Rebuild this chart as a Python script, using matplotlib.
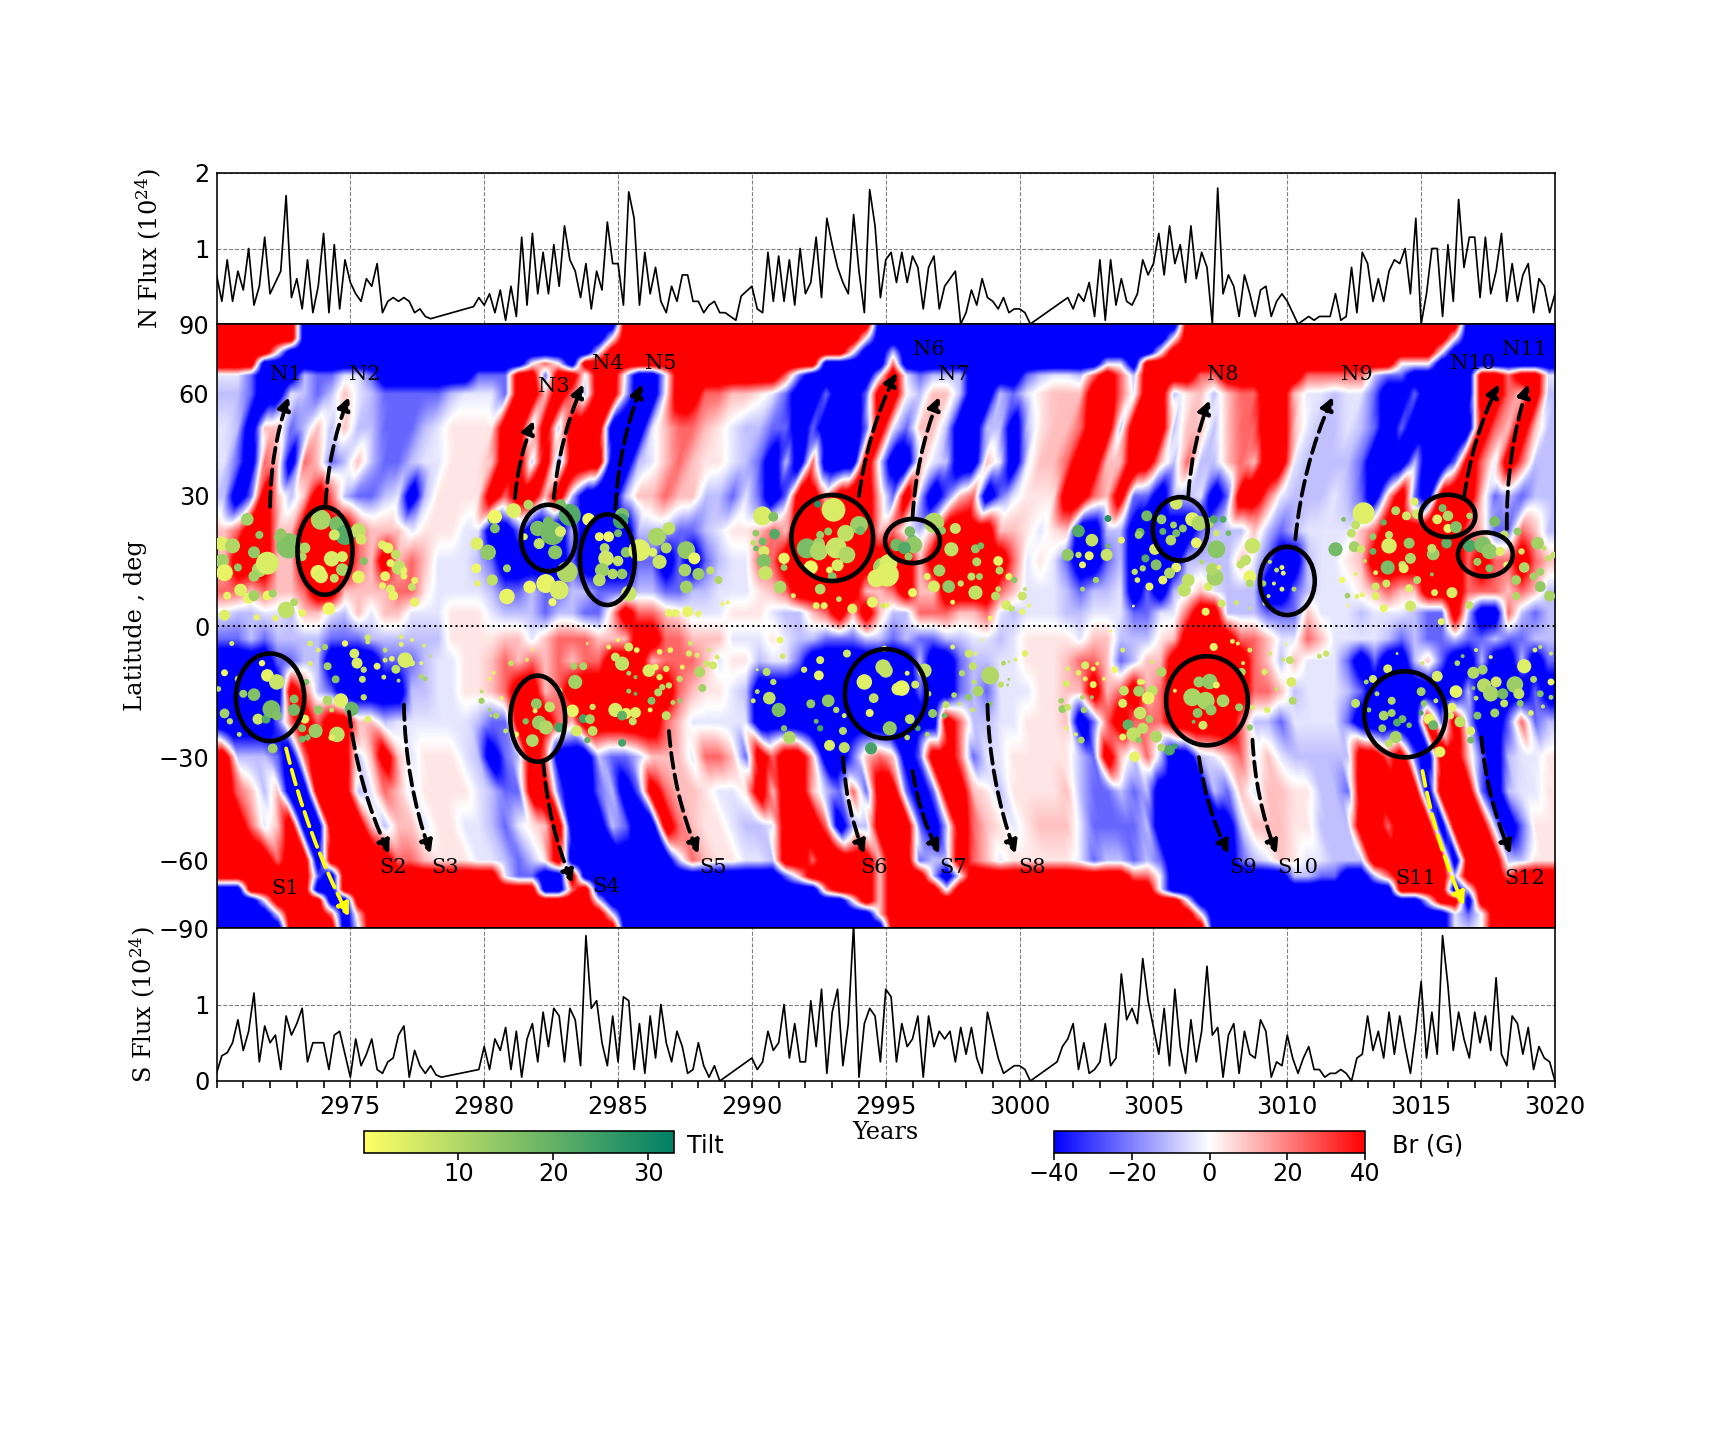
import numpy as np
import matplotlib
matplotlib.use("Agg")
import matplotlib.pyplot as plt
from matplotlib.patches import Ellipse, FancyArrowPatch
from matplotlib.cm import ScalarMappable
from matplotlib.colors import Normalize

plt.rcParams['font.family'] = 'DejaVu Sans'
plt.rcParams['mathtext.fontset'] = 'dejavuserif'

# ---- flux series, 5 readings per year from 2970, nan = no reading (line bridges the gap)
n = np.nan
n_flux = [
 .65,.3,.85,.3,.7, .45,1.0,.25,.5,1.15, .4,.55,.7,1.7,.35, .6,.2,.85,.15,.5, 1.2,.15,1.05,.2,.85,
 .55,.4,.3,.6,.5, .8,.15,.3,.35,.3, .35,.3,.15,.2,.1, .07,n,n,n,n, n,n,n,.23,.35,
 .25,.4,.15,.45,.05, .5,.1,1.15,.25,1.2, .4,.95,.4,1.05,.5, 1.3,.85,.7,.35,.8, .2,.7,.45,1.35,.8,
 .8,.25,1.75,1.4,.25, .95,.4,.75,.3,.15, .5,.3,.65,.65,.3, .3,.15,.25,.3,.15, .15,.1,.05,.37,n,
 .5,.2,.15,.95,.3, .9,.3,.85,.25,1.0, .4,.55,1.15,.35,1.4, 1.05,.75,.55,.4,1.45, .7,.15,1.78,1.3,.35,
 .85,.95,.55,.95,.55, .9,.75,.2,.75,.9, .2,.5,.6,.7,0, .15,.45,.25,.6,.35, .3,.2,.35,.15,.2,
 .2,.15,0,n,n, n,n,n,n,.35, .2,.4,.3,.55,.1, .85,.05,.85,.25,.6, .3,.25,.4,.85,.65,
 .8,1.2,.65,1.3,.8, 1.05,.55,1.3,.6,.95, .75,0,1.8,.4,.65, .5,.1,.65,.4,.1, .45,.5,.1,.3,.4,
 .3,.15,0,.05,.1, .05,.1,.1,.1,.4, .05,.1,.75,.15,.95, .8,.3,.6,.3,.7, .85,.8,1.0,.4,1.4,
 0,.4,1.0,1.0,.1, 1.05,.3,1.65,.75,1.15, 1.15,.35,1.15,.4,.7, 1.2,.3,.8,.3,.65, .8,.15,.6,.5,.15, .4]
s_flux = [
 .1,.33,.37,.5,.8, .4,.65,1.15,.25,.72, .5,.6,.15,.85,.6, .75,.95,.25,.5,.5, .5,.15,.6,.65,.35,
 .05,.55,.2,.35,.55, .15,.1,.25,.3,.6, .72,.05,.4,.2,.1, .2,.08,.05,n,n, n,n,n,n,.15,
 .45,.15,.55,.4,.7, .15,.65,.05,.55,.75, .25,.9,.45,.95,.85, .25,.95,.8,.2,1.9, .95,1.05,.5,.2,.85,
 .25,1.1,1.05,.15,.75, .1,.85,.3,1.0,.5, .25,.65,.45,.1,.15, .5,.2,.05,.2,0, n,n,n,n,n,
 .3,.15,.25,.65,.4, .5,1.0,.3,.75,.25, .25,1.05,.45,1.2,.1, .9,1.2,.2,.75,2.05, .05,.75,.95,.85,.25,
 1.2,1.1,.25,.75,.45, .55,.85,.05,.85,.45, .65,.55,.65,.25,.7, .35,.7,.3,.1,.9, .6,.3,.1,.15,.2,
 .2,.15,0,n,n, n,n,.25,.45,.55, .75,.15,.5,.1,.15, .25,.75,.2,.3,1.4, .8,.95,.75,1.6,1.05,
 .7,.35,.95,.2,1.2, .45,.1,.8,.25,.65, 1.5,.6,.7,.05,.6, .75,.1,.65,.35,.3, .8,.65,.05,.25,.2,
 .6,.3,.1,.3,.45, .15,.15,.05,.1,.1, .15,.1,0,.3,.35, .85,.4,.65,.3,.9, .35,.85,.45,.1,.65,
 1.3,.3,.9,.35,1.9, 1.25,.4,.9,.55,.3, .9,.5,.85,.4,1.35, .35,.2,.85,.75,.35, .7,.15,.45,.3,.25, 0]

# ---- Br field: level per half year from 2970, one string per latitude, five years per group
br_levels = {'B': -60, 'b': -24, 'c': -10, 'd': -4, '.': 0, 'e': 4, 'f': 10, 'r': 24, 'R': 60}
br_lats = [90, 84, 78, 73, 68, 60, 50, 40, 30, 22, 15, 8, 3,
           -3, -8, -15, -22, -30, -40, -50, -60, -67, -73, -78, -84, -90]
br_rows = [
 "RRRRRRBBBB BBBBBBBBBB BBBBBBBBBB RRRRRRRRRR RRRRRRRRRB BBBBBBBBBB BBBBBBBBBB BBRRRRRRRR RRRRRRRRRR RRRBBBBBBB",
 "RRRRRRBBBB BBBBBBBBBB BBBBBBBBB. RRRRRRRRRR RRRRRRRR.B BBBBBBBBBB BBBBBBBBBB B.RRRRRRRR RRRRRRRRRR RR.BBBBBBB",
 "RRRR.BBBBB BBBBBBBBBB BBBBBBBB.R RRRRRRRRRR RRRRRRR.BB cBBBBBBBBB BBBBBBBBBB .RRRRRRRRR RRRRRRRRRR R.BBBBBBBB",
 "RRRBBBBBBB BBBBBBBBBB BBB.r.BRRR RRRRRRRRRR RRRRRBBBBB rBBBBBBBBB BBBBBBddBR RRRRRRRRRR RRRRRRRR.. .BBBBBBBBB",
 "ddbBBBcbbd dbBBBBBBBb bbRRbRRdRR dBBdRRRRRR RRrbBBBBBd RdbcccBBBB bcddcrRrcR RRRrrRRRRR RrrrrrcbbB BBBBRRrRRd",
 "ccbBBdcbcf dcbbbbbcdd dbRRfRrcRR cBB.RRrrff edbBBbBBbR R.cffcBBcb defffRRrdR RcefcfrrRR fddcddbBBb BBBBRRrfRc",
 "dcBffbcfcf ccbbbcdeee eRRcRcRRRB BBdfrrfedc cbbBbBBBbR dbffcBBccB ceffrRRcRR RcffcfrrRR fdccdcbBbB BBBBRrfRfc",
 "dbBrfBrfbc fcbbcddeee fRRcRbRRRB Bcdfrfeedc bBcBrBBBRd BBfdcBBfdB dffrRRffRR fcrccfrfRR dccccbBBBc BBbRrdRrcc",
 "cBbRfcfRrc bbcdBceeee RrRRfRcBBB cffrffccbd bBbRRfRRRf bRcBbfrBbd eeeRRrfRbb BccdBbRRrd cccdcbBfRb BRRRfbcbcc",
 "frRRffRRRR rfffdeeedd BBbBBBcBBB Bcccbbcdee frfRRRRRRf rdcfRRRRff edefBBccBB BBBbcccfcb cddddfrRRR RRRrfbbrfc",
 "fRRRffRRRR rfRfrfdddc bBBBBBbBBB BbbBbBbcdd rrRRRRRRRR RRfRRRRRRr dedbBBbcBB BBccccfdbB BcddefRRRR RRRrRrrRrf",
 "rrfrffrRRf fffrredddd cbbcbbccbb bccbbccddd efrRRRRRff rRffRRRRrf dddcbccdBb BcdfdcccBB bcdddefrff RRRrrrfrfc",
 "dccddcffdc fdffdddeee dcccbccbbf Rrrfedddee edccfrRfRf ccrrrffrdc dddccdddbb ddrRRcccbb bfdddcdddc bbRcBBrcbc",
 "bbcbccccbb bcccccceee effdfrrrff fRRrrfffdd dedccbbbcc bcbbccddcd eeeedffccc efRRRRrrfd drfddddcbc bbcbbcbbcc",
 "BBBBbbccBB BBbbbcddee frfrfrfrrR RRfrrrfdee cddbBBBBBB BBcBBbccdd eeefrrfbcf fRRRRRRrfc fdddbBbBBc fbBBcBBcBb",
 "BBBBBRrcbB BBBBccddee frRRfrRRRR RRRRrfeedc BBBBBBBBBB BBbBBbcbdd deeffRfrRf rRRRRRRrrf cdddcbBBBB BBBcBBBBbB",
 "BBBBbrRrRR ffcddddddc bbRRRrfRRR RRRrfddddd BBBBBBBBBB BBBBRrccdd eeefBbrRrr rRRRRRrccb ddddbBBBBB RbRcBBbrbc",
 "RcccbBrRRR cfRfdeeedc BbcRrBBBcb bcfffdrrfb RrRRfBBbfr fBbRRrbdde eeeecbRfcr cBBcdfrdfd cccccRRrRb BRRfbBcdde",
 "RrfcfBBRRR cdrfdeeeed cbbRRbBBbc BbRrffedde RfRRfcbrbR RbBbRRfece eeefcbbcbc BBBBcbfdff eeccbRRRRR BRRRbBcdde",
 "RRrdfRBBRR Rfcffdeedd cbdefRBBBc bBBRrfeedc cdRRRrBccR RRbBcRrfed efffdbbbbc BBBBBBcfff eecccRRrRR RBRRRcBbee",
 "RRRRrRRBRR RRRrrfeeed dcbceRBBBB BBBBcrfeed dcRRrRRRRf RRbccRrfde eeeedbccbc bBBBBBbcdf eddcccRRRR RRBRRRccee",
 "RRRRRRRbBR RRRRRRRRRR RdbbBBRBBB BBBBBBBBBB BBbfRRRRRf RRRcB.RRRR RRRRRRRRrr dBBBBBBBBB ccbbBBcrRR RRcRRRrRRR",
 "BBRRRRRBBR RRRRRRRRRR RRRRBBrRBB BBBBBBBBBB BBBBBrRRRf RRRRdRRRRR RRRRRRRRRR dBBBBBBBBB BBBBBBBBRR RRBdRRRRRR",
 "BBBdRRRRBB RRRRRRRRRR RRRRRRRRdB BBBBBBBBBB BBBBBBB.Rf RRRRRRRRRR RRRRRRRRRR RR.BBBBBBB BBBBBBBBBB dRRBRRRRRR",
 "BBBBdRRRrB fRRRRRRRRR RRRRRRRRRd BBBBBBBBBB BBBBBBBBBf RRRRRRRRRR RRRRRRRRRR RRR.BBBBBB BBBBBBBBBB BBdb.RRRRR",
 "BBBBBRRRRB dRRRRRRRRR RRRRRRRRRR BBBBBBBBBB BBBBBBBBBB RRRRRRRRRR RRRRRRRRRR RRRRBBBBBB BBBBBBBBBB BBdc.RRRRR",
]

# ---- sunspot emergences: year, latitude, size, tilt
spots_n1 = [(2970.2,19,25,4),(2970.6,18.5,28,10),(2970.2,15,25,12),(2970.3,12.3,35,3),(2970.8,13.5,8,14),(2971.15,24.6,20,12),
 (2971.4,17,18,14),(2971.6,13,28,10),(2971.4,11.5,15,12),(2971.9,14.5,65,5),(2972.7,18.5,80,16),(2972.3,20.5,8,14),(2972.4,21.3,14,14),
 (2971.6,21,8,14),(2973.3,18,15,10),(2973.2,16,10,10),(2973.9,24.5,50,11),(2974.5,23.5,30,17),(2974.8,21,50,22),(2974.4,21,15,6),
 (2974.3,15.5,30,5),(2974.7,16,15,5),(2974.7,13,20,11),(2973.8,12.3,30,3),(2973.9,11.5,25,4),(2974.4,11,10,8),(2975.3,22,28,8),
 (2975.4,20,15,6),(2975.3,11.3,20,3),(2975.5,15,8,16),(2970.9,8.3,20,4),(2970.4,7,8,3),(2971.2,6.4,15,3),(2971.4,7,15,12),(2971.9,7,12,3),
 (2972.1,7.5,8,12),(2972.6,3.7,35,8),(2972.9,5.5,8,10),(2973.2,3,8,3),(2974.2,4,20,2),(2970.3,2.5,15,4),(2971.5,2,5,3),(2972.2,1.8,5,3),
 (2976.2,18.7,10,4),(2976.4,18,15,3),(2976.7,16.5,12,8),(2976.8,13.5,25,8),(2976.5,14.5,8,3),(2977,12.8,6,3),(2977,11.5,6,3),(2976.3,11.5,12,3),
 (2976.2,9.3,6,3),(2976.5,8.5,10,4),(2976.6,7,12,3),(2977.3,9,8,8),(2977.4,10.5,6,3),(2977.4,5.5,10,3)]
spots_n2 = [(2979.73,19,20,4),(2979.7,13.3,12,2),(2980.15,17,30,14),(2980.3,10.6,16,8),(2979.75,9.8,5,3),(2980.3,24.6,10,26),(2980.4,25.2,25,2),
 (2981.1,26.6,28,4),(2981.65,28,12,10),(2980.4,22.5,12,16),(2980.85,13.3,8,12),(2980.85,6.8,30,3),(2981.7,9,20,2),(2982.3,9.8,45,3),(2982.8,8.3,45,5),
 (2983.1,12.5,55,10),(2982.55,5.5,8,2),(2982.05,19,15,8),(2982,22.5,30,17),(2982.55,21.4,70,18),(2982.4,24,15,18),(2982.65,17,25,15),(2982.85,21.8,15,5),
 (2983.2,25.6,60,22),(2982.85,28,15,17),(2981.5,20.6,6,4),(2983.9,24.6,20,2),(2985.15,25.6,25,17),(2985.1,24.2,30,24),(2984.3,20.6,10,2),(2984.65,20.6,14,2),
 (2985,21.4,8,18),(2984.5,18,12,10),(2985.3,17,14,15),(2984.55,15.6,30,6),(2985,15,14,8),(2984.4,12.9,25,13),(2985.15,12,14,14),(2984.8,12,14,10),
 (2984.3,10.6,20,9),(2985.4,7.5,30,7),(2985.8,17.5,60,4),(2986.3,17,10,4),(2986.45,20.6,40,11),(2986.9,22.5,20,8),(2986.8,18,15,10),(2986.55,14.8,25,7),
 (2987.55,17.5,40,14),(2987.85,15.6,18,3),(2987.5,12.9,20,11),(2988,12,18,13),(2987.55,9,20,12),(2988.45,12.8,8,8),(2988.75,10.6,8,10),(2986.9,3,8,3),
 (2987.15,3,8,3),(2987.6,3.3,15,3),(2988,2.8,5,3),(2988.9,5.1,2,3),(2989.1,5.4,2,3)]
spots_n3 = [(2990.4,25.4,45,5),(2990.8,25.2,12,16),(2990.15,21.4,6,14),(2990.85,21.2,14,22),(2990.05,19.2,4,8),(2990.15,17.9,4,18),(2990.4,19.5,8,18),
 (2990.45,17.2,15,5),(2990.45,15,25,16),(2990.5,12.2,25,7),(2991.2,13.5,6,14),(2991.2,15.6,16,3),(2991.05,9,20,10),(2991.55,7.0,3,4),(2992.55,8.5,14,10),
 (2992.4,4.7,6,3),(2992.7,4.7,6,3),(2993.75,4,12,4),(2993.25,6.2,4,8),(2994.5,5.5,15,3),(2994.9,4.7,4,6),(2993.05,26.8,70,5),(2992.45,28.1,6,28),
 (2994,23.3,40,13),(2993.5,21.4,35,8),(2992.05,17.9,50,17),(2992.5,19,18,12),(2992.5,17.2,40,10),(2993.15,18,55,7),(2993.55,16.4,35,10),(2992.2,13.5,25,2),
 (2992.85,21.8,8,14),(2992.55,21,8,13),(2993.2,14,18,5),(2992.9,12.9,6,2),(2993,11.4,10,16),(2994.05,22,10,18),(2994.9,13.5,50,12),(2994.65,11,40,4),
 (2995.9,21.8,14,17),(2996,19.9,12,20),(2995.4,18.7,20,18),(2996.05,18.7,35,14),(2995.7,18,20,22),(2995.85,16,8,13),(2996.8,23.8,50,10),(2997.1,22,8,14),
 (2997.6,22.5,15,7),(2997.45,17.7,25,8),(2995.1,14.5,40,5),(2995.05,11.8,70,4),(2998.35,17.8,10,14),(2998.55,18.5,6,18),(2998.4,14.8,10,10),(2999.2,15,12,3),
 (2999.25,12.8,8,10),(2997,12.8,18,12),(2996.55,11.4,6,3),(2996.8,9.1,18,5),(2997.35,9.1,20,14),(2996,7.7,10,2),(2997.8,9.8,5,8),(2998.2,11.4,8,8),
 (2998.5,11.4,6,12),(2998.35,7.7,25,8),(2999.1,6.9,10,9),(2999.2,8.5,4,8),(2999.6,11.4,6,3),(2999.8,10.6,5,15),(2999.5,4.8,12,5),(2999.7,4,5,8),
 (3000.1,6.9,10,7),(3000.2,8.5,2,8),(3000.35,4.7,2,3),(3000.1,3.3,5,3),(2997.5,5.5,3,2),(2998.9,1.8,3,2),(2995.05,4.8,3,3)]
spots_n4 = [(3002.2,21.9,20,22),(3003.3,24.8,6,28),(3001.8,16.4,18,14),(3002.2,16.4,5,8),(3002.7,19.8,20,8),(3002.6,16.2,10,3),(3003.25,16.4,18,7),(3002.35,14.1,6,3),
 (3002.85,10.6,5,12),(3002.35,8.5,3,10),(3003.3,18.5,3,18),(3003.8,19.8,6,3),(3004.75,25.4,15,18),(3004.5,21.6,10,19),(3004.45,21,8,12),(3004.7,15.6,8,22),
 (3005.1,14.1,15,16),(3004.3,12.5,5,8),(3004.6,13.3,5,10),(3004.4,10.6,4,5),(3004.85,9.1,8,3),(3005.35,10.6,10,3),(3004.25,4.6,1,3),(3005.85,28.3,20,6),
 (3005.3,24.6,12,13),(3006.45,24.6,25,4),(3006.7,23.7,28,10),(3007.05,23.7,15,10),(3007.25,24.6,8,22),(3007.6,24.6,6,22),(3005.35,21.8,6,20),(3005.75,23.3,6,12),
 (3005.85,21.4,8,18),(3006.1,22.5,8,14),(3005.65,19.8,14,10),(3006.6,19.2,14,3),(3007.35,17.7,40,15),(3007.35,21.4,5,6),(3007.8,21.4,4,18),(3005.05,17.7,16,5),
 (3005.85,13.5,12,3),(3005.6,12.2,15,10),(3006.3,10.6,20,8),(3006.15,8.3,22,8),(3007.05,9.1,10,5),(3007.3,11.2,35,12),(3007.2,13.1,20,10),(3007.45,13.5,3,3),
 (3006.8,14.8,3,10),(3007.55,5.2,8,6),(3008.1,5.4,3,6),(3006.95,3.3,8,3),(3008.6,4.1,1,6),(3008.7,18.5,30,7),(3008.45,15.2,14,8),(3008.25,14.2,8,8),
 (3008.6,11.4,20,3),(3008.6,9.8,8,10),(3009.1,9.8,5,12),(3009.8,13.5,3,3),(3009.85,12.2,3,3),(3009.6,12.9,3,8),(3009.5,9.8,2,4),(3009.8,8.5,3,4),
 (3010.25,8.5,3,10),(3009.3,6.9,2,8),(3009.15,5.2,2,3),(3009.35,14.8,2,8)]
spots_n5 = [(3012.85,26,60,4),(3012.55,23.3,10,8),(3012.4,21.4,10,8),(3012.1,24.6,3,16),(3011.8,17.7,25,18),(3012.5,18.3,15,12),(3012.05,10.6,5,2),(3012.55,12,2,4),
 (3012.25,7,4,12),(3012.25,4.7,1,2),(3012.6,6.8,3,4),(3012.8,7.2,3,3),(3012.75,17.7,8,6),(3013.2,20.6,6,14),(3013.2,17.2,6,20),(3013.6,23.9,5,20),(3014.05,26.6,10,10),
 (3014.45,25.4,10,6),(3014.75,28.7,8,4),(3014.85,25.8,12,6),(3013.8,21,8,8),(3013.8,18.5,30,5),(3014.55,19.1,15,14),(3014.6,15.6,15,10),(3013.75,13.5,25,17),
 (3014.3,14.1,8,8),(3014.35,13.3,12,4),(3013.3,9.1,8,6),(3013.7,9.8,8,6),(3012.9,15,2,8),(3013.3,12.3,3,4),(3014.85,10.6,8,10),(3014.55,8.7,8,4),(3015.45,16.6,20,13),
 (3015.4,17.9,10,8),(3015.95,19.1,14,20),(3015.4,11.9,2,16),(3015.5,7.7,6,4),(3016.15,7.7,15,5),(3014.6,4.6,15,6),(3013.6,4.1,8,3),(3013.3,6.9,8,4),(3015.75,1,6,3),
 (3016.8,4.8,8,8),(3015.8,27.2,8,17),(3016,25.4,14,10),(3015.6,24.6,12,4),(3016,22.5,10,3),(3016.3,22.8,18,16),(3016.8,25.4,5,10),(3016.8,18.5,20,23),(3017.3,18.7,35,16),
 (3017.55,17.2,30,14),(3017.95,17.2,10,4),(3017.1,14.8,8,13),(3017.55,13.3,8,16),(3017.75,24.1,15,17),(3018.1,21,10,8),(3018.6,21.8,8,14),(3018.2,14.1,6,3),(3018.55,10.6,12,12),
 (3018.55,6.9,8,10),(3018.85,13.5,14,10),(3019.35,19.1,20,12),(3018.75,17.2,5,6),(3019.2,11.4,8,12),(3019.45,9.1,15,14),(3019.45,12.5,8,12),(3019.8,6.9,15,11),(3019.75,15.6,5,8),
 (3019.95,16.4,5,8),(3019.6,17.9,3,8)]
spots_s1 = [(2970.57,-4,3,5),(2970.07,-14.4,4,10),(2970.3,-10.7,6,2),(2970.8,-12.1,5,7),(2971,-15.5,8,13),(2971.4,-15.7,20,16),(2971.7,-8.5,5,2),(2971.9,-11.3,20,3),
 (2972.25,-12.8,30,7),(2970.3,-20,12,12),(2970.5,-21.8,5,9),(2971.55,-21.3,15,7),(2971.85,-21.3,10,22),(2972.05,-19,40,17),(2972.9,-16.7,10,16),(2972.9,-19.2,18,18),
 (2972.25,-20.5,12,16),(2973.3,-21.3,10,3),(2972.1,-28,12,12),(2970.85,-24.8,3,8),(2973.5,-4,4,5),(2974.05,-4.8,5,12),(2974.8,-4,5,2),(2973.8,-5.5,3,4),(2975.65,-2.6,5,6),
 (2975.65,-3.6,3,6),(2975.15,-6.3,12,5),(2975.25,-8.5,15,5),(2974.15,-9.2,8,12),(2973.5,-8.6,3,4),(2976,-9.2,6,3),(2975.5,-10,5,8),(2974.45,-12.2,8,16),(2975.45,-12.2,6,7),
 (2973.35,-12.8,5,16),(2976.3,-5.5,3,8),(2976.3,-7.8,3,6),(2974.15,-17,12,10),(2974.65,-17,25,4),(2975.5,-16.3,5,8),(2973.8,-19.2,10,14),(2974.3,-19.2,3,8),(2975.05,-19,25,19),
 (2975.65,-21.3,6,4),(2974.5,-24.8,30,8),(2973.7,-24,25,13),(2973.2,-23.4,8,16),(2973.2,-25.9,6,18),(2973.4,-25.5,5,17),(2974.3,-25.5,5,4),(2976.9,-2.5,3,5),(2976.9,-4.2,3,3),
 (2977.3,-3.2,2,3),(2977.75,-4.5,2,5),(2978,-6.9,1,8),(2976.55,-7.5,4,3),(2977.05,-7.8,30,5),(2977.3,-8.5,5,5),(2977.65,-8.5,2,3),(2976.7,-9.9,10,8),(2976.25,-11.7,3,6),
 (2977.65,-11.5,3,10),(2977.8,-12.1,3,12),(2976.8,-12.5,2,10)]
spots_s2 = [(2981.8,-5.5,1,3),(2981.6,-7.7,2,5),(2981,-8.5,4,8),(2980.35,-10.7,2,3),(2980.2,-12.1,2,3),(2979.9,-15,2,8),(2979.9,-17.1,5,12),(2980.2,-19.2,2,12),(2980.45,-20.5,5,10),
 (2980.65,-16.5,2,2),(2980.25,-20.5,1,8),(2980.8,-24,3,8),(2981.95,-17.8,15,14),(2982.45,-18.5,14,8),(2983.3,-19.4,20,3),(2981.9,-19.4,3,3),(2982.05,-22.1,25,13),(2982.3,-23.2,25,10),
 (2981.55,-21.8,5,16),(2982.8,-23.2,12,24),(2981.8,-26.2,20,10),(2981.2,-24.8,4,2),(2983.45,-24,15,5),(2984.05,-24,12,8),(2983.7,-21.2,10,24),(2983.95,-21.3,12,12),(2984.05,-18.5,5,7),
 (2983.85,-26.1,5,20),(2983.4,-12.8,25,12),(2982.8,-14.8,5,6),(2983.7,-9.2,8,11),(2983.35,-9.2,6,12),(2983.85,-4,1,5),(2984.65,-4.8,3,3),(2985,-3.2,2,2),(2984.9,-7.1,10,7),(2985.15,-8.6,25,8),
 (2985.4,-4.8,10,6),(2985.7,-5.5,4,2),(2985.4,-10.8,3,12),(2985.65,-11.7,2,16),(2985.4,-14.9,3,14),(2985.65,-15.5,2,20),(2984.9,-19.2,25,5),(2985.3,-20,15,3),(2985.65,-19.8,15,4),
 (2985.15,-20.5,12,20),(2985.15,-26.7,8,24),(2985.55,-21.8,8,8),(2986.2,-19.2,3,2),(2986.25,-17.1,8,16),(2986.15,-10.2,20,5),(2986.4,-9.4,5,3),(2986.55,-11.7,5,5),(2986.95,-5.5,4,3),
 (2986.55,-5.9,4,3),(2986.8,-9.8,5,5),(2986.5,-15.2,8,10),(2986.9,-13.6,5,8),(2987.3,-12.1,5,8),(2986.65,-14,5,10),(2987.3,-17.1,3,14),(2987.05,-17.5,3,10),(2986.8,-20.5,10,8),
 (2987.7,-4,3,6),(2987.65,-6.3,5,5),(2987.95,-6.7,3,4),(2988.4,-5.5,2,6),(2988.7,-7.1,3,5),(2988.55,-9,8,6),(2988.3,-8.6,5,7),(2988.05,-10.5,15,10),(2988.15,-14.2,8,12),(2987.4,-9.4,3,3)]
spots_s3 = [(2991.05,-3.2,6,3),(2991.15,-6.9,4,6),(2990.2,-10,1,5),(2990.55,-10.5,8,9),(2990.8,-12.8,5,9),(2991.95,-10,5,6),(2992.55,-7.8,8,5),(2992.5,-11.3,12,3),(2990.2,-15,3,10),
 (2990.05,-17.1,3,6),(2990.65,-16.5,20,8),(2991,-19.2,25,17),(2992.2,-17.8,10,14),(2992.85,-17.1,20,15),(2993.15,-19.2,5,10),(2992.55,-23.4,5,24),(2992.4,-21.8,3,18),(2991.2,-23.4,5,16),
 (2993.45,-20.5,3,5),(2993.4,-24,8,10),(2991.4,-25.5,20,10),(2992.9,-27.3,15,5),(2993.45,-27.8,15,8),(2994.45,-28,18,24),(2993.55,-6.3,8,6),(2994.2,-12.8,30,4),(2994.55,-16.5,12,8),
 (2994.4,-19.9,8,3),(2995.15,-23.4,15,10),(2994.9,-9.4,30,8),(2995.45,-14.4,20,4),(2994.95,-5.2,5,5),(2995,-10.2,25,8),(2995.6,-14.2,30,3),(2996.1,-13.4,8,6),(2996.45,-10.2,25,8),
 (2995.8,-10.8,3,4),(2995.15,-23.4,25,14),(2995.9,-21.3,12,8),(2996.2,-23.4,4,22),(2995.8,-25.5,4,8),(2996.75,-20,10,14),(2996.6,-15.5,4,8),(2996.55,-24.8,3,10),(2997.2,-20.5,4,18),
 (2997.25,-18,6,8),(2997.55,-15.8,4,10),(2997.5,-4.8,3,4),(2998.1,-6.3,8,6),(2998.25,-9.2,8,8),(2997.85,-10.8,5,10),(2998.6,-3.2,1,3),(2998.35,-6.3,2,4),(2998.3,-12.8,3,8),
 (2998.45,-14.9,15,11),(2998.1,-16.3,6,14),(2997.75,-17.8,2,7),(2998.25,-19.2,3,7),(2998.9,-17.8,3,16),(2998.9,-11.3,40,10),(2999.4,-8.5,3,10),(2999.6,-8.2,1,8),(2999.85,-7.7,2,4),
 (3000.2,-6.3,5,4),(2999.6,-12.2,1,12),(2999.55,-13.5,1,12),(2999.3,-13.4,5,8)]
spots_s4 = [(3003.4,-1.2,1,3),(3003.85,-5.5,3,5),(3003.55,-10,6,2),(3002.9,-8.6,2,5),(3002.45,-9,8,5),(3002.75,-9.8,3,3),(3001.8,-9.8,3,4),(3002.2,-10.7,4,4),(3002.45,-12.1,3,3),
 (3002.75,-13.4,6,3),(3003.15,-12.1,2,3),(3001.75,-13.2,6,5),(3002.35,-16.3,3,10),(3002.7,-16.3,2,14),(3001.55,-17.1,4,12),(3001.6,-19,8,13),(3001.8,-18.6,6,7),(3002.4,-19.2,5,12),
 (3001.75,-23.4,2,3),(3002.1,-24.8,2,4),(3002.3,-26.1,6,11),(3003.9,-14.8,12,8),(3004.45,-14.9,15,12),(3003.85,-17.7,10,5),(3004.6,-12.8,3,3),(3004.95,-14.8,15,8),(3004.8,-16.5,20,3),
 (3005.3,-10.5,12,10),(3004.5,-12.8,5,3),(3004.95,-8.2,2,5),(3004.5,-19.9,20,7),(3004.85,-21.3,8,12),(3004.05,-22.6,15,20),(3004.6,-23.4,15,8),(3004.25,-24.8,25,8),(3005.1,-25.3,18,10),
 (3003.85,-25.4,6,3),(3004.45,-26.1,5,14),(3005.3,-27.8,8,10),(3005.6,-28.4,14,22),(3004.3,-29.9,14,3),(3005.8,-27.5,4,24),(3006.45,-16.3,40,11),(3006.7,-12.8,15,13),(3007.1,-12.7,30,14),
 (3007.35,-13.5,6,3),(3006.95,-17.1,40,11),(3007.6,-17.1,20,11),(3007.15,-19.2,15,14),(3006.65,-19.9,12,15),(3008.2,-18.6,8,13),(3006.85,-22.7,10,6),(3006.5,-21.9,2,18),(3005.8,-14.8,2,4),
 (3007.25,-4.8,8,3),(3007.95,-3.5,3,5),(3008.15,-4,2,4),(3008.6,-5.5,3,6),(3008.35,-8.5,2,6),(3009.35,-6.3,2,6),(3009.85,-7.7,2,6),(3010.1,-7.8,8,8),(3009.95,-4.2,1,3),(3011.2,-6.9,3,8),
 (3011.45,-6.3,5,7),(3010.15,-12.8,12,5),(3010.2,-17.1,8,10),(3009.25,-19.2,5,4),(3009.6,-14.4,2,7),(3009.15,-10.5,5,5),(3008.6,-23.2,5,14),(3008.3,-10.5,8,11),(3008.7,-18.6,3,5)]
spots_s5 = [(3014.1,-6.3,1,6),(3015.05,-8.5,2,6),(3012.95,-12.8,3,12),(3013.2,-12.1,8,6),(3013.75,-9.8,10,5),(3015.6,-11.5,15,5),(3012.55,-17.7,10,8),(3013.9,-17.1,8,10),(3013.35,-15.5,3,10),
 (3015,-15,10,12),(3015.1,-17.7,5,14),(3015.55,-17.1,3,8),(3013.05,-19.2,3,14),(3013.6,-20.5,12,11),(3013.9,-19.9,8,12),(3014.3,-21.3,8,18),(3014.1,-22.1,8,22),(3013.55,-23.4,8,14),
 (3014.55,-22.7,4,18),(3015,-19.9,3,24),(3015.3,-21.3,15,3),(3015.45,-22.7,12,19),(3014.05,-25.4,18,11),(3013.8,-26.9,8,8),(3015.7,-28.8,15,3),(3016.45,-21.9,15,8),(3016.15,-18.6,10,3),
 (3016.3,-15,20,3),(3016.1,-20.5,6,5),(3016.35,-8.5,4,10),(3017.05,-5.5,2,6),(3017.6,-7.1,2,4),(3016.55,-6.9,2,16),(3016.95,-10.7,18,10),(3017.3,-10,12,12),(3017.05,-16.5,3,8),
 (3016.95,-14.2,2,14),(3017.1,-20.5,8,16),(3016.85,-24,10,4),(3016.85,-26.1,6,18),(3017.75,-19.9,10,12),(3017.35,-13.6,25,9),(3017.6,-15.5,30,11),(3018.05,-15.5,15,18),(3017.8,-12.8,15,6),
 (3018.1,-17.7,8,8),(3018.7,-17.7,6,15),(3018.5,-13.4,35,13),(3018.65,-15.5,15,8),(3018.85,-9.2,25,4),(3019.2,-12.2,6,10),(3019.1,-19.9,4,4),(3019.45,-15.5,6,16),(3019.55,-18.4,2,8),
 (3019.85,-12.8,6,3),(3019.85,-16.3,3,12),(3019.25,-5.5,3,5),(3019.45,-4.8,2,8),(3019.85,-6.3,2,6)]

# ---- circled regions: year, latitude, width in years, height as share of the hemisphere axis
circles = [(2974.05,17.3,2.05,.29),(2972,-16.3,2.55,.29),(2982.4,20.3,2.05,.22),(2984.6,15.3,2.05,.30),(2982,-21.2,2.05,.285),
 (2993,20.3,3.05,.285),(2996,19.6,2.05,.146),(2995,-15.5,3.05,.295),(3006,22.4,2.05,.21),(3007,-17.1,3.05,.295),
 (3010,10.4,2.05,.226),(3014.4,-20.2,3.05,.285),(3016,25.4,2.05,.14),(3017.4,16.5,2.05,.146)]
# ---- transport arrows: start year, start lat, end year, end lat, bend, colour
arrows = [(2972,27.5,2972.7,59,-.08,'k'),(2974.07,28,2974.95,59,-.08,'k'),(2981.15,29.5,2981.85,52,-.08,'k'),(2982.6,29.5,2983.7,64,-.08,'k'),
 (2984.9,27,2985.9,64,-.08,'k'),(2994,30,2995.4,69,-.08,'k'),(2996,25,2997,59,-.08,'k'),(3006.3,30,3007.1,58,-.08,'k'),(3010.3,20,3011.7,59,-.08,'k'),
 (3016.6,29.5,3017.9,64,-.08,'k'),(3018.2,22.4,3019,64,-.08,'k'),
 (2972.6,-28,2974.95,-85,.06,'yellow'),(2974.95,-19.6,2976.45,-58,.08,'k'),(2977,-18,2978,-58,.08,'k'),(2982.2,-31,2983.3,-70,.08,'k'),(2986.9,-24,2988,-58,.08,'k'),
 (2993.4,-30,2994.2,-58,.08,'k'),(2996,-34,2997,-58,.08,'k'),(2998.8,-18,2999.85,-58,.08,'k'),(3006.7,-30,3007.8,-58,.08,'k'),(3008.7,-26,3009.6,-58,.08,'k'),
 (3015.05,-34,3016.6,-80,.06,'yellow'),(3017.25,-25.5,3018.35,-58,.08,'k')]
labels = [('N1',2972.6,68),('N2',2975.55,68),('N3',2982.6,63),('N4',2984.6,73),('N5',2986.6,73),('N6',2996.6,79),('N7',2997.55,68),('N8',3007.6,68),('N9',3012.6,68),
 ('N10',3016.9,73),('N11',3018.85,79),('S1',2972.55,-72.5),('S2',2976.6,-63),('S3',2978.55,-63),('S4',2984.55,-71.5),('S5',2988.55,-63),('S6',2994.55,-63),('S7',2997.5,-63),
 ('S8',3000.45,-63),('S9',3008.35,-63),('S10',3010.4,-63),('S11',3014.8,-68),('S12',3018.85,-68)]

lat_ticks = [90, 60, 30, 0, -30, -60, -90]
lat_pos = [1, 211/274, 118/274, 0, -119/274, -213/274, -1]
year_ticks = [2975, 2980, 2985, 2990, 2995, 3000, 3005, 3010, 3015, 3020]

lat_pos_lat = np.array(lat_ticks[::-1], float)
lat_pos_val = np.array(lat_pos[::-1], float)
def to_axis(lat):
    return np.interp(lat, lat_pos_lat, lat_pos_val)

W, H = 1728, 1440
fig = plt.figure(figsize=(12, 10), dpi=144)
def box(l, t, r, b):
    return [l/W, 1-b/H, (r-l)/W, (b-t)/H]
ax_n = fig.add_axes(box(216.5, 173, 1555, 324))
ax_m = fig.add_axes(box(216.5, 324, 1555, 928))
ax_s = fig.add_axes(box(216.5, 928, 1555, 1081))
cax_t = fig.add_axes(box(363.5, 1131, 674, 1153))
cax_b = fig.add_axes(box(1054, 1131, 1365, 1153))

# flux panels
def flux_line(ax, vals):
    v = np.array(vals, float)
    t = 2970 + 0.2*np.arange(len(v))
    ok = ~np.isnan(v)
    ax.plot(t[ok], v[ok], color='k', lw=0.85, zorder=3)
    ax.set_xlim(2970, 3020); ax.set_ylim(0, 2)
    ax.set_xticks(year_ticks)
    ax.grid(True, color='gray', ls='--', lw=0.55)
    ax.tick_params(labelsize=12)
flux_line(ax_n, n_flux)
flux_line(ax_s, s_flux)
ax_n.set_yticks([1, 2]); ax_n.tick_params(axis='x', length=0, labelbottom=False)
ax_n.tick_params(axis='y', length=0)
ax_n.set_ylabel(r"N Flux ($10^{24}$)", family='DejaVu Serif', fontsize=12, labelpad=15)
ax_s.set_yticks([0, 1]); ax_s.tick_params(axis='y', length=0)
ax_s.set_xticks(np.arange(2970, 3021), minor=True)
ax_s.tick_params(axis='x', which='both', length=3.5, width=0.8)
ax_s.set_ylabel(r"S Flux ($10^{24}$)", family='DejaVu Serif', fontsize=12, labelpad=18)
ax_s.set_xlabel("Years", family='DejaVu Serif', fontsize=12, labelpad=1)

# Br field: hand-read grid resampled so the surges lean poleward between latitude rows
grid = []
for row in br_rows:
    chars = row.replace(' ', '')
    chars = (chars + chars[-1]*100)[:100]
    grid.append([br_levels[c] for c in chars])
grid = np.array(grid, float)
cols = 2970.25 + 0.5*np.arange(100)
rows_s = to_axis(np.array(br_lats, float))
fine_t = np.linspace(2970, 3020, 1000)
fine_s = np.linspace(-1, 1, 600)
field = np.zeros((len(fine_s), len(fine_t)))
for i, sv in enumerate(fine_s):
    j = int(np.clip(np.searchsorted(-rows_s, -sv) - 1, 0, len(rows_s)-2))
    s0, s1 = rows_s[j], rows_s[j+1]
    w = (sv - s0)/(s1 - s0)
    mid = abs(s0 + s1)/2
    lean = 2.6 if .3 < mid < .8 else (1.2 if .2 < mid <= .3 else 0.0)
    lean *= np.sign(s0 + s1)
    field[i] = ((1-w)*np.interp(fine_t - lean*(sv-s0), cols, grid[j])
                + w*np.interp(fine_t - lean*(sv-s1), cols, grid[j+1]))
ax_m.imshow(field, origin='lower', extent=(2970, 3020, -1, 1), aspect='auto',
            cmap='bwr', vmin=-40, vmax=40, interpolation='bilinear')
ax_m.set_xlim(2970, 3020); ax_m.set_ylim(-1, 1)
ax_m.axhline(0, color='k', ls=':', lw=1.0, zorder=2)
ax_m.set_yticks(to_axis(np.array(lat_ticks, float)))
ax_m.set_yticklabels([str(v).replace('-', '\u2212') for v in lat_ticks], fontsize=12)
ax_m.set_xticks([])
ax_m.tick_params(axis='y', length=0)
ax_m.set_ylabel("Latitude , deg", family='DejaVu Serif', fontsize=12, labelpad=6)

spots = np.array(spots_n1+spots_n2+spots_n3+spots_n4+spots_n5+spots_s1+spots_s2+spots_s3+spots_s4+spots_s5)
ax_m.scatter(spots[:,0], to_axis(spots[:,1]), s=spots[:,2]*2.0, c=spots[:,3], cmap='summer_r',
             vmin=0, vmax=32.7, linewidths=0, zorder=3, clip_on=True)

for yr, lat, w, h in circles:
    ax_m.add_patch(Ellipse((yr, to_axis(lat)), w, h, fill=False, ec='k', lw=2.3, zorder=4))
for y0, l0, y1, l1, bend, col in arrows:
    ax_m.add_patch(FancyArrowPatch((y0, to_axis(l0)), (y1, to_axis(l1)), connectionstyle=f"arc3,rad={bend}",
                   arrowstyle='-|>', mutation_scale=13, lw=1.9, ls=(0, (4, 1.8)), color=col, zorder=5,
                   shrinkA=0, shrinkB=0))
for txt, yr, lat in labels:
    ax_m.text(yr, to_axis(lat), txt, family='DejaVu Serif', fontsize=10.5, ha='center', va='center', color='k', zorder=6)

# colourbars
cb_t = fig.colorbar(ScalarMappable(Normalize(0, 32.7), 'summer_r'), cax=cax_t, orientation='horizontal')
cb_t.set_ticks([10, 20, 30]); cb_t.ax.tick_params(labelsize=12, pad=1)
cb_b = fig.colorbar(ScalarMappable(Normalize(-40, 40), 'bwr'), cax=cax_b, orientation='horizontal')
cb_b.set_ticks([-40, -20, 0, 20, 40]); cb_b.ax.tick_params(labelsize=12, pad=1)
fig.text(687/W, 1-1146/H, "Tilt", fontsize=12, ha='left', va='center')
fig.text(1392/W, 1-1146/H, "Br (G)", fontsize=12, ha='left', va='center')

fig.savefig("out.png", dpi=144)
